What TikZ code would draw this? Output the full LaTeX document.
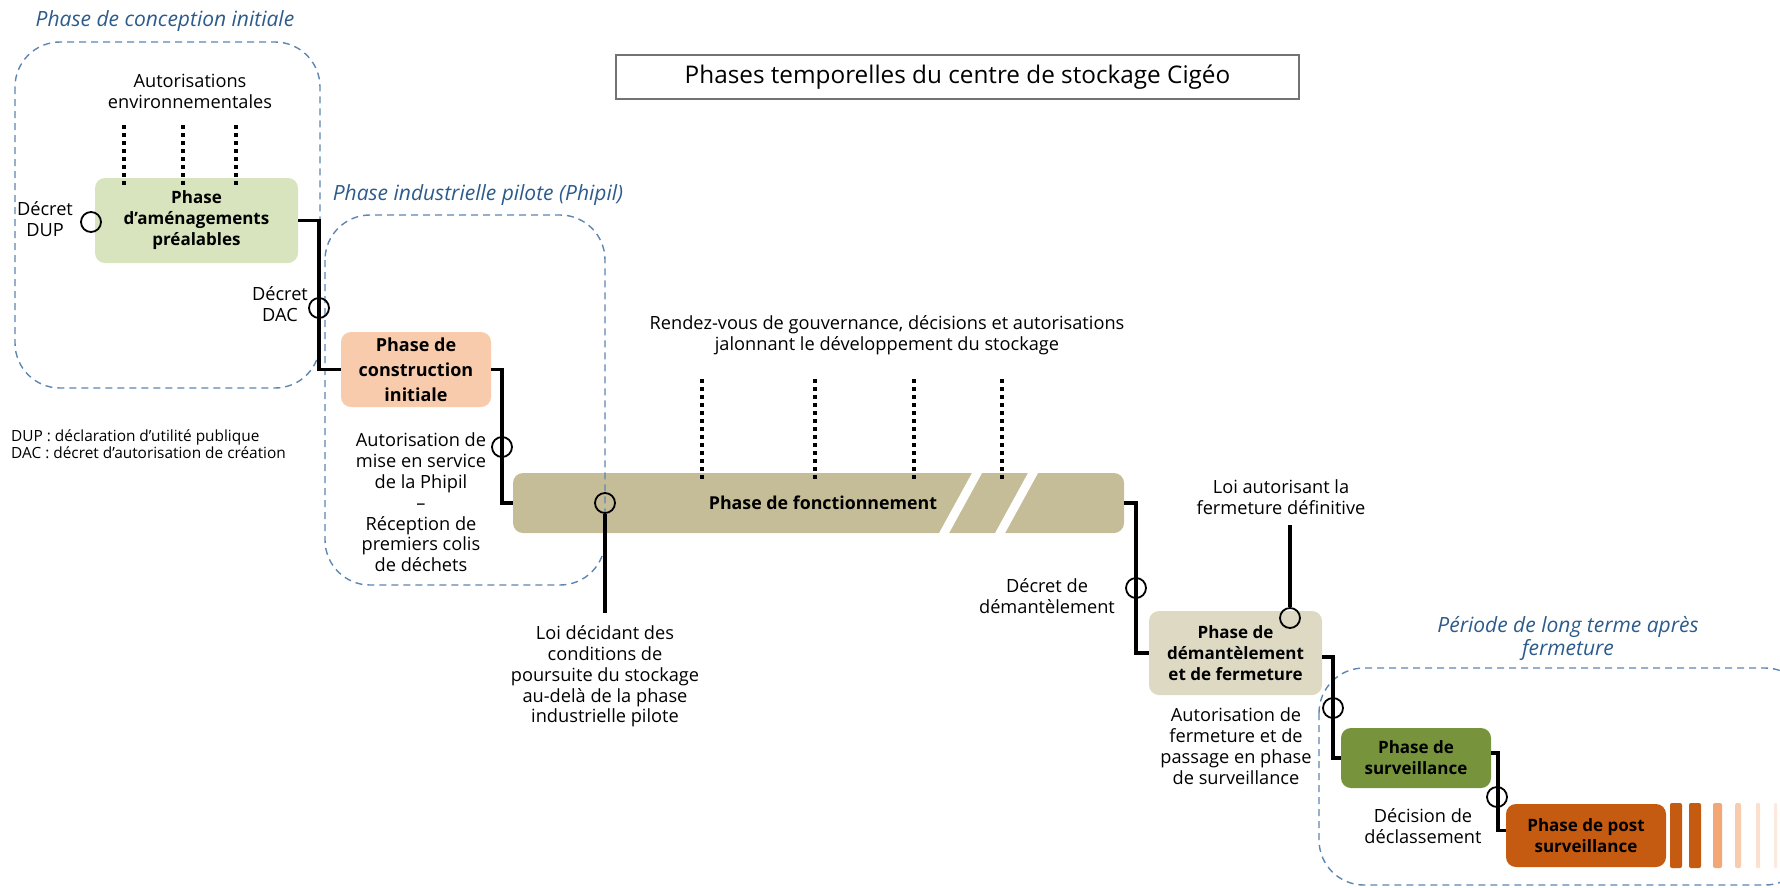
\documentclass[tikz,border=0pt]{standalone}
\usepackage{fontspec}
\setmainfont{Open Sans}
\definecolor{grpblue}{HTML}{5E86B0}
\definecolor{titleblue}{HTML}{2C5B8C}
\definecolor{amencol}{HTML}{D7E4BD}
\definecolor{constrcol}{HTML}{F8CBAD}
\definecolor{barcol}{HTML}{C4BD97}
\definecolor{demcol}{HTML}{DDD9C3}
\definecolor{survcol}{HTML}{77933C}
\definecolor{postcol}{HTML}{C55A11}
\definecolor{stripeA}{HTML}{F2A774}
\definecolor{stripeB}{HTML}{F8CBAD}
\definecolor{stripeC}{HTML}{FBE0D0}
\definecolor{stripeD}{HTML}{FCEAE0}
\tikzset{
  conn/.style={line width=3.5pt},
  ring/.style={circle, draw, line width=1.8pt, minimum size=20pt, inner sep=0pt},
  lbl/.style={align=center, font=\fontsize{18.2}{21}\selectfont, inner sep=0pt},
  phasebox/.style={rounded corners=10pt, align=center, font=\bfseries\fontsize{17}{21}\selectfont, inner sep=0pt},
  grp/.style={draw=grpblue, dash pattern=on 7pt off 5pt, line width=1.4pt, rounded corners=45pt},
  grptitle/.style={text=titleblue, font=\itshape\fontsize{21}{23}\selectfont, align=center, inner sep=0pt},
  dotline/.style={line width=4pt, dash pattern=on 4pt off 4pt},
}
\begin{document}
\begin{tikzpicture}[x=1pt, y=-1pt]
\useasboundingbox (0,0) rectangle (1780,887);

% title
\node[draw=black!55, line width=1.2pt, minimum width=683pt, minimum height=44pt, inner sep=0pt,
      font=\fontsize{24.3}{28}\selectfont] (title) at (957.5,77) {Phases temporelles du centre de stockage Cigéo};

% operating bar
\fill[barcol, rounded corners=10pt] (513,473) rectangle (1124,533);
\fill[white] (973.1,471) -- (983.1,471) -- (948,535) -- (938,535) -- cycle;
\fill[white] (1029.1,471) -- (1039.1,471) -- (1004,535) -- (994,535) -- cycle;
\node[minimum width=611pt, minimum height=60pt, inner sep=0pt] (bar) at (818.5,503) {};
\node[font=\bfseries\fontsize{17.8}{21}\selectfont, inner sep=0pt] (fonct) at (823,503) {Phase de fonctionnement};

% phase boxes
\node[phasebox, fill=amencol, minimum width=203pt, minimum height=85pt] (amen) at (196.5,220.5) {Phase\\d’aménagements\\préalables};
\node[phasebox, fill=constrcol, minimum width=150pt, minimum height=75pt, font=\bfseries\fontsize{18}{25}\selectfont] (constr) at (416,369.5) {Phase de\\construction\\initiale};
\node[phasebox, fill=demcol, minimum width=173pt, minimum height=84pt] (dem) at (1235.5,653) {Phase de\\démantèlement\\et de fermeture};
\node[phasebox, fill=survcol, minimum width=150pt, minimum height=60pt] (surv) at (1416,758) {Phase de\\surveillance};
\node[phasebox, fill=postcol, minimum width=160pt, minimum height=63pt] (post) at (1586,835.5) {Phase de post\\surveillance};

% fading stripes
\fill[postcol, rounded corners=2pt] (1670,803) rectangle (1682,868);
\fill[postcol, rounded corners=2pt] (1689,803) rectangle (1701,868);
\fill[stripeA, rounded corners=2pt] (1713,803) rectangle (1722,868);
\fill[stripeB, rounded corners=2pt] (1735,803) rectangle (1741,868);
\fill[stripeC, rounded corners=1pt] (1756,803) rectangle (1760,868);
\fill[stripeD, rounded corners=1pt] (1774,803) rectangle (1777,868);

% group frames
\draw[grp] (15,42) rectangle (320,388);
\draw[grp] (325,215) rectangle (605,585);
\draw[grp] (1319,668) rectangle (1810,885);
\node[grptitle] (g1) at (165,21) {Phase de conception initiale};
\node[grptitle] (g2) at (478,195) {Phase industrielle pilote (Phipil)};
\node[grptitle] (g3) at (1568,638) {Période de long terme après\\fermeture};

% dotted milestones
\foreach \i/\x in {a/124,b/183,c/236}{
  \coordinate (e\i1) at (\x,125); \coordinate (e\i2) at (\x,188);
  \draw[dotline] (e\i1) -- (e\i2);
}
\foreach \i/\x in {a/702,b/815,c/914,d/1002}{
  \coordinate (r\i1) at (\x,379); \coordinate (r\i2) at (\x,480);
  \draw[dotline] (r\i1) -- (r\i2);
}

% connectors and milestones
\node[ring] (dup) at (91,222) {};
\draw[conn] (amen.east) -- ++(21,0) |- (constr.west);
\node[ring] (dac) at (319,308) {};
\draw[conn] (constr.east) -- ++(11,0) |- (bar.west);
\node[ring] (mes) at (502,447) {};
\draw[conn] (bar.east) -- ++(12,0) |- (dem.west);
\node[ring] (ddem) at (1136,588) {};
\draw[conn] ([yshift=-4pt]dem.east) -- ++(11,0) |- (surv.west);
\node[ring] (afer) at (1333,708) {};
\draw[conn] ([yshift=5pt]surv.east) -- ++(7,0) |- ([yshift=5pt]post.west);
\node[ring] (decl) at (1497,797) {};
\node[ring] (loi1) at (605,503) {};
\coordinate (loi1end) at (605,613);
\draw[conn] (loi1.south) -- (loi1end);
\node[ring] (loi2) at (1290,618) {};
\coordinate (loi2top) at (1290,525);
\draw[conn] (loi2top) -- (loi2.north);

% labels
\node[lbl] (lenv) at (190,91) {Autorisations\\environnementales};
\node[lbl] (ldup) at (45,219) {Décret\\DUP};
\node[lbl] (ldac) at (280,304) {Décret\\DAC};
\node[lbl, font=\fontsize{15.4}{17}\selectfont, align=left, anchor=west] (legend) at (11,444) {DUP : déclaration d’utilité publique\\DAC : décret d’autorisation de création};
\node[lbl, font=\fontsize{18.2}{20.8}\selectfont] (lmes) at (421,502.5) {Autorisation de\\mise en service\\de la Phipil\\–\\Réception de\\premiers colis\\de déchets};
\node[lbl] (lrdv) at (887,335) {Rendez-vous de gouvernance, décisions et autorisations\\jalonnant le développement du stockage};
\node[lbl, font=\fontsize{18.2}{20.8}\selectfont] (lloi1) at (605,676.5) {Loi décidant des\\conditions de\\poursuite du stockage\\au-delà de la phase\\industrielle pilote};
\node[lbl] (lddem) at (1047,596) {Décret de\\démantèlement};
\node[lbl] (lloi2) at (1281,497) {Loi autorisant la\\fermeture définitive};
\node[lbl] (lafer) at (1236,746) {Autorisation de\\fermeture et de\\passage en phase\\de surveillance};
\node[lbl] (ldecl) at (1423,826) {Décision de\\déclassement};
\end{tikzpicture}
\end{document}
